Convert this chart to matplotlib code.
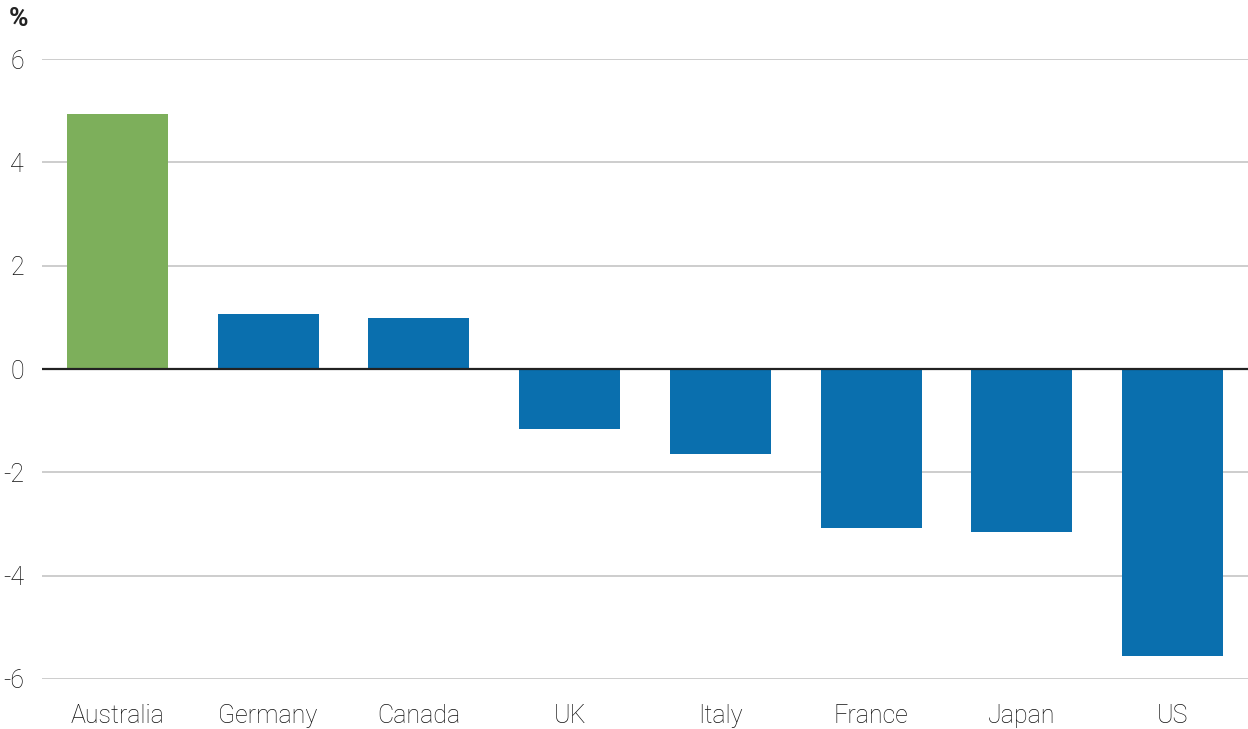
import matplotlib
matplotlib.use('Agg')
from matplotlib import pyplot as plt

countries = ['Australia', 'Germany', 'Canada', 'UK', 'Italy', 'France', 'Japan', 'US']
values = [4.93, 1.06, 0.99, -1.16, -1.64, -3.08, -3.15, -5.55]
colors = ['#7daf5b'] + ['#0a6fae'] * 7
y_ticks = [-6, -4, -2, 0, 2, 4, 6]

plt.rcParams['font.family'] = ['Roboto', 'Liberation Sans', 'DejaVu Sans']

fig = plt.figure(figsize=(12.48, 7.29), dpi=100)
ax = fig.add_axes([0.0337, 0.0686, 0.9663, 0.8504])

x = range(len(countries))
ax.bar(x, values, width=0.67, color=colors, zorder=3)

ax.set_xlim(-0.5, 7.5)
ax.set_ylim(-6, 6)
ax.set_yticks(y_ticks)
ax.set_yticklabels([str(t) for t in y_ticks], fontweight='light')
ax.set_xticks(list(x))
ax.set_xticklabels(countries, fontweight='light')

for t in y_ticks:
    if t == 0:
        ax.axhline(t, color='#222222', linewidth=1.6, zorder=4)
    else:
        ax.axhline(t, color='#c0c0c0', linewidth=1.1, zorder=1)

for s in ax.spines.values():
    s.set_visible(False)
ax.tick_params(axis='both', length=0, labelsize=18, labelcolor='#111111')
ax.tick_params(axis='y', pad=13)
ax.tick_params(axis='x', pad=18)

fig.text(0.007, 0.99, '%', fontsize=19, fontweight='bold', color='#222222', va='top', ha='left')

fig.savefig('out.png', dpi=100)
